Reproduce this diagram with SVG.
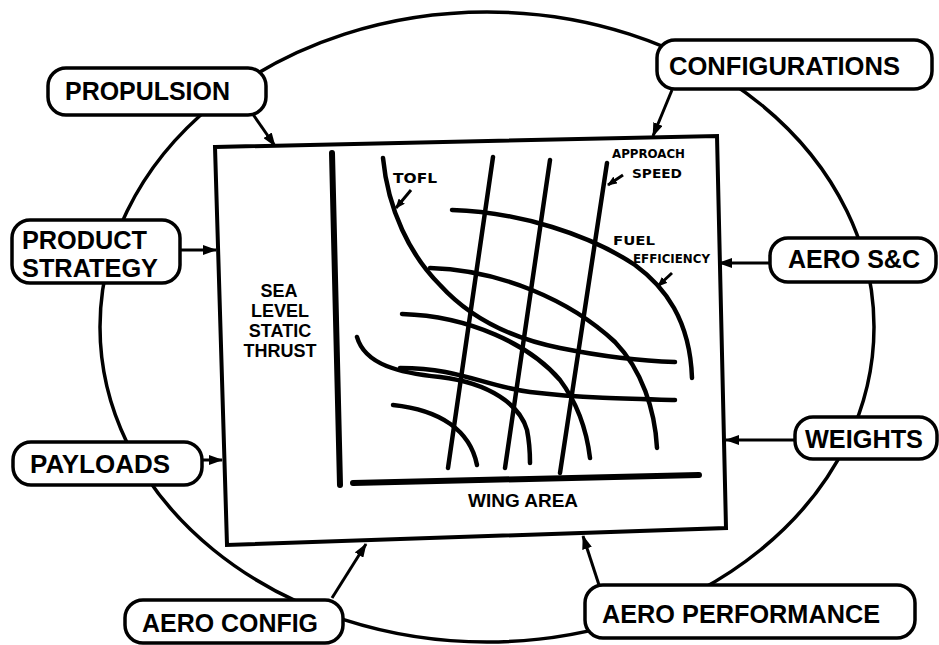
<svg xmlns="http://www.w3.org/2000/svg" width="939" height="645" viewBox="0 0 939 645">
<style>
.bg{fill:#fff}
.ring{fill:none;stroke:#000;stroke-width:3.5}
.box{fill:#fff;stroke:#000;stroke-width:3.5}
.lbl{font-family:"Liberation Sans",Arial,sans-serif;font-weight:bold;font-size:26px;fill:#000}
.ax{font-family:"Liberation Sans",Arial,sans-serif;font-weight:bold;fill:#000}
.hw{font-family:"DejaVu Sans Condensed","DejaVu Sans",sans-serif;font-weight:bold;fill:#000}
.conn{fill:none;stroke:#000;stroke-width:3;marker-end:url(#ah)}
.ptr{fill:none;stroke:#000;stroke-width:3;marker-end:url(#ahs)}
.crv{fill:none;stroke:#000;stroke-width:4.5;stroke-linecap:round}
.axis{fill:none;stroke:#000;stroke-width:6;stroke-linecap:round}
.frame{fill:#fff;stroke:#000;stroke-width:4;stroke-linejoin:miter}
</style>
<defs>
<marker id="ah" viewBox="0 0 14 10" markerWidth="14" markerHeight="10" refX="13" refY="5" orient="auto" markerUnits="userSpaceOnUse"><path d="M0,0 L14,5 L0,10 z" fill="#000"/></marker>
<marker id="ahs" viewBox="0 0 10 8" markerWidth="10" markerHeight="8" refX="9" refY="4" orient="auto" markerUnits="userSpaceOnUse"><path d="M0,0 L10,4 L0,8 z" fill="#000"/></marker>
</defs>
<rect class="bg" x="0" y="0" width="939" height="645"/>
<g id="cycle">
<ellipse class="ring" cx="487" cy="327" rx="387" ry="315"/>
</g>
<g id="chart">
<polygon class="frame" points="215,147 717,136 726,528 227,545"/>
<line class="axis" x1="332" y1="153" x2="340" y2="485"/>
<line class="axis" x1="353" y1="483" x2="699" y2="475"/>
<text class="ax" font-size="18" text-anchor="middle"><tspan x="279" y="297">SEA</tspan><tspan x="280" y="317">LEVEL</tspan><tspan x="280" y="337">STATIC</tspan><tspan x="280" y="357">THRUST</tspan></text>
<text class="ax" font-size="19" x="468" y="507" textLength="110" lengthAdjust="spacingAndGlyphs">WING AREA</text>
<path class="crv" d="M493,157 L448,468"/>
<path class="crv" d="M550,160 L505,468"/>
<path class="crv" d="M607,163 L560,473"/>
<path class="crv" d="M383,158 C388,210 410,255 440,285 C470,318 510,338 560,348 C600,356 640,361 675,362"/>
<path class="crv" d="M452,210 C520,212 590,235 635,265 C665,287 690,320 692,378"/>
<path class="crv" d="M430,268 C500,270 570,300 615,342 C642,370 655,410 657,448"/>
<path class="crv" d="M402,314 C470,316 530,345 560,380 C575,400 586,425 590,458"/>
<path class="crv" d="M357,337 C365,365 400,373 440,377 C490,383 520,405 527,430 C530,445 530,455 530,463"/>
<path class="crv" d="M400,368 C460,368 480,385 530,392 C580,398 630,399 675,400"/>
<path class="crv" d="M393,405 C440,410 470,430 477,465"/>
<text class="hw" font-size="14" x="393" y="183" textLength="44" lengthAdjust="spacingAndGlyphs">TOFL</text>
<text class="hw" font-size="12" x="612" y="158" textLength="73" lengthAdjust="spacingAndGlyphs">APPROACH</text>
<text class="hw" font-size="13" x="632" y="178" textLength="50" lengthAdjust="spacingAndGlyphs">SPEED</text>
<text class="hw" font-size="13" x="613" y="245" textLength="42" lengthAdjust="spacingAndGlyphs">FUEL</text>
<text class="hw" font-size="12" x="633" y="263" textLength="77" lengthAdjust="spacingAndGlyphs">EFFICIENCY</text>
<path class="ptr" d="M411,190 L396,208"/>
<path class="ptr" d="M623,175 L608,185"/>
<path class="ptr" d="M672,273 L658,286"/>
</g>
<g id="connectors">
<path class="conn" d="M252,113 L275,146"/>
<path class="conn" d="M180,250 L216,250"/>
<path class="conn" d="M202,460 L222,460"/>
<path class="conn" d="M332,598 L366,544"/>
<path class="conn" d="M600,588 L583,536"/>
<path class="conn" d="M795,440 L726,440"/>
<path class="conn" d="M770,263 L719,263"/>
<path class="conn" d="M672,90 L653,136"/>
</g>
<g id="propulsion"><rect class="box" x="48" y="68" width="218" height="47" rx="18"/><text class="lbl" x="65" y="100" textLength="165" lengthAdjust="spacingAndGlyphs">PROPULSION</text></g>
<g id="product-strategy"><rect class="box" x="12" y="220" width="168" height="63" rx="18"/><text class="lbl" font-size="24" x="22" y="249" textLength="125" lengthAdjust="spacingAndGlyphs">PRODUCT</text><text class="lbl" font-size="24" x="22" y="277" textLength="136" lengthAdjust="spacingAndGlyphs">STRATEGY</text></g>
<g id="payloads"><rect class="box" x="13" y="442" width="189" height="43" rx="18"/><text class="lbl" x="30" y="473" textLength="140" lengthAdjust="spacingAndGlyphs">PAYLOADS</text></g>
<g id="aero-config"><rect class="box" x="125" y="600" width="218" height="43" rx="18"/><text class="lbl" x="142" y="632" textLength="176" lengthAdjust="spacingAndGlyphs">AERO CONFIG</text></g>
<g id="aero-performance"><rect class="box" x="585" y="585" width="330" height="53" rx="18"/><text class="lbl" x="602" y="623" textLength="278" lengthAdjust="spacingAndGlyphs">AERO PERFORMANCE</text></g>
<g id="weights"><rect class="box" x="795" y="417" width="142" height="42" rx="18"/><text class="lbl" x="805" y="448" textLength="118" lengthAdjust="spacingAndGlyphs">WEIGHTS</text></g>
<g id="aero-sc"><rect class="box" x="770" y="238" width="166" height="44" rx="18"/><text class="lbl" x="788" y="268" textLength="132" lengthAdjust="spacingAndGlyphs">AERO S&amp;C</text></g>
<g id="configurations"><rect class="box" x="657" y="40" width="275" height="49" rx="18"/><text class="lbl" x="669" y="75" textLength="231" lengthAdjust="spacingAndGlyphs">CONFIGURATIONS</text></g>
</svg>
